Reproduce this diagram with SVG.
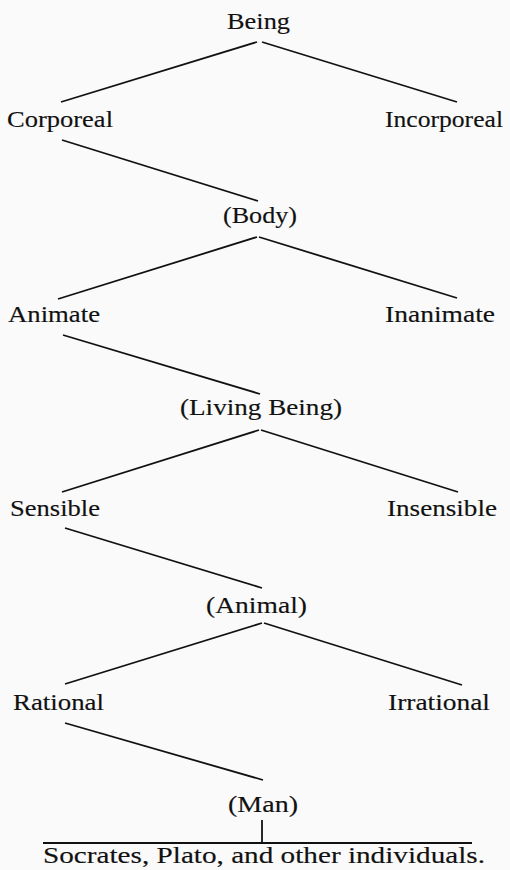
<svg xmlns="http://www.w3.org/2000/svg" width="510" height="870" viewBox="0 0 510 870">
<style>
text{font-family:"Liberation Serif","Times New Roman",serif;font-size:24px;fill:#111;stroke:#111;stroke-width:0.15;}
.c line{stroke:#111;stroke-width:1.8;stroke-linecap:butt;}
</style>
<rect width="510" height="870" fill="#fafafa"/>
<g class="c" id="connectors">
<line x1="257" y1="42" x2="61" y2="102"/>
<line x1="262" y1="42" x2="457" y2="102"/>
<line x1="62" y1="140" x2="258" y2="201"/>
<line x1="257" y1="237" x2="58" y2="299"/>
<line x1="259" y1="237" x2="457" y2="298"/>
<line x1="63" y1="335" x2="260" y2="394"/>
<line x1="259" y1="430" x2="62" y2="492"/>
<line x1="261" y1="430" x2="458" y2="492"/>
<line x1="65" y1="528" x2="262" y2="588"/>
<line x1="262" y1="623" x2="65" y2="684"/>
<line x1="264" y1="623" x2="462" y2="685"/>
<line x1="65" y1="723" x2="263" y2="780"/>
<line x1="262" y1="820" x2="262" y2="843"/>
<line x1="43" y1="843" x2="472" y2="843"/>
</g>
<g id="being"><text x="227" y="29" textLength="63" lengthAdjust="spacingAndGlyphs">Being</text></g>
<g id="corporeal"><text x="7" y="127" textLength="106" lengthAdjust="spacingAndGlyphs">Corporeal</text></g>
<g id="incorporeal"><text x="385" y="127" textLength="118" lengthAdjust="spacingAndGlyphs">Incorporeal</text></g>
<g id="body"><text x="223" y="223" textLength="74" lengthAdjust="spacingAndGlyphs">(Body)</text></g>
<g id="animate"><text x="8" y="322" textLength="92" lengthAdjust="spacingAndGlyphs">Animate</text></g>
<g id="inanimate"><text x="385" y="322" textLength="110" lengthAdjust="spacingAndGlyphs">Inanimate</text></g>
<g id="living-being"><text x="180" y="415" textLength="162" lengthAdjust="spacingAndGlyphs">(Living Being)</text></g>
<g id="sensible"><text x="10" y="516" textLength="90" lengthAdjust="spacingAndGlyphs">Sensible</text></g>
<g id="insensible"><text x="387" y="516" textLength="110" lengthAdjust="spacingAndGlyphs">Insensible</text></g>
<g id="animal"><text x="206" y="613" textLength="101" lengthAdjust="spacingAndGlyphs">(Animal)</text></g>
<g id="rational"><text x="13" y="710" textLength="91" lengthAdjust="spacingAndGlyphs">Rational</text></g>
<g id="irrational"><text x="388" y="710" textLength="102" lengthAdjust="spacingAndGlyphs">Irrational</text></g>
<g id="man"><text x="228" y="812" textLength="70" lengthAdjust="spacingAndGlyphs">(Man)</text></g>
<g id="individuals"><text x="43" y="863" textLength="442" lengthAdjust="spacingAndGlyphs">Socrates, Plato, and other individuals.</text></g>
</svg>
